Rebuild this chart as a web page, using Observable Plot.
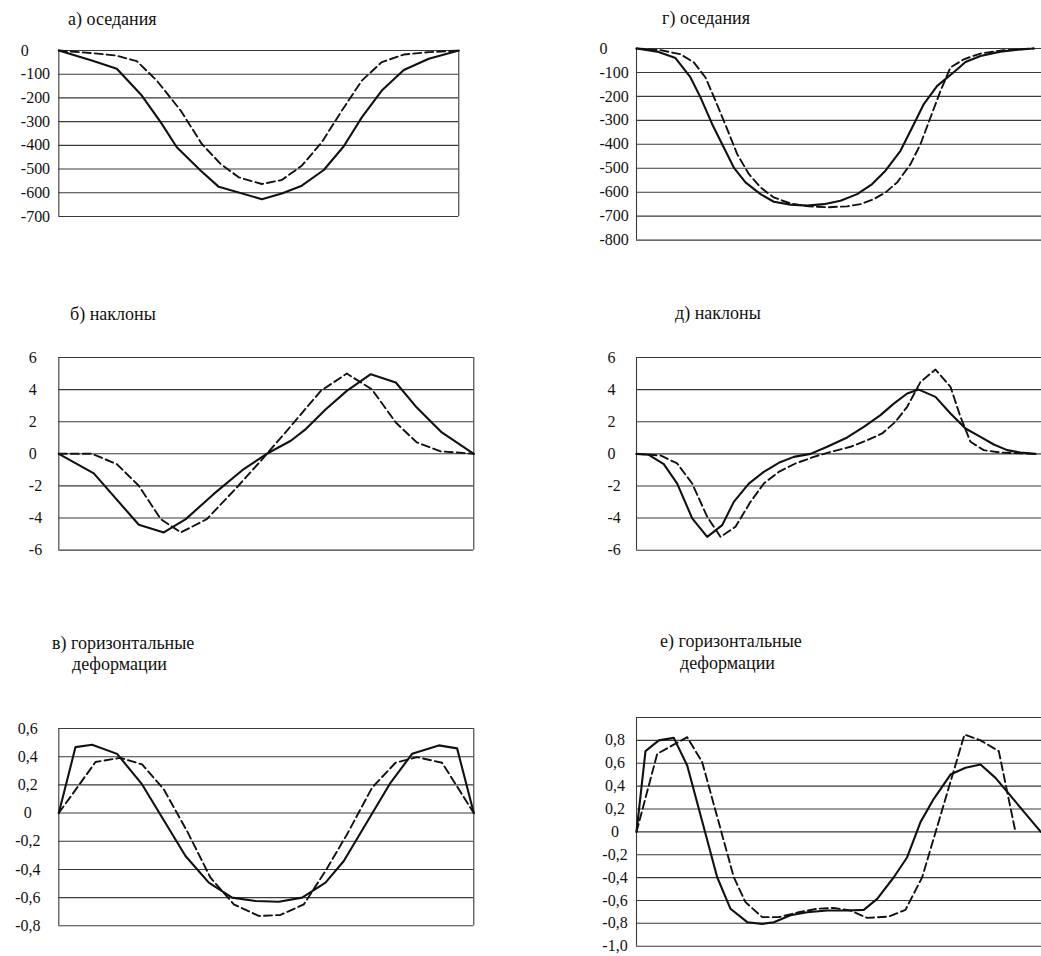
<!DOCTYPE html>
<html><head><meta charset="utf-8">
<script src="https://cdn.jsdelivr.net/npm/d3@7"></script>
<script src="https://cdn.jsdelivr.net/npm/@observablehq/plot@0.6"></script>
<style>
body{margin:0;background:#fff;}
#wrap{position:relative;width:1041px;height:956px;overflow:hidden;font-family:"Liberation Serif","DejaVu Serif","Noto Serif","Times New Roman",Times,serif;}
.t{position:absolute;font-family:"Liberation Serif","DejaVu Serif","Noto Serif","Times New Roman",Times,serif;font-size:18px;line-height:18px;white-space:nowrap;color:#111}
.p{position:absolute}
</style></head><body><div id="wrap"></div>
<script>
// ---- titles ----
const titleA = ["а) оседания"];
const titleB = ["б) наклоны"];
const titleC = ["в) горизонтальные", "деформации"];
const titleG = ["г) оседания"];
const titleD = ["д) наклоны"];
const titleE = ["е) горизонтальные", "деформации"];

// ---- tick values / labels ----
const ticksA = [0, -100, -200, -300, -400, -500, -600, -700];
const labelsA = ["0", "-100", "-200", "-300", "-400", "-500", "-600", "-700"];
const ticksG = [0, -100, -200, -300, -400, -500, -600, -700, -800];
const labelsG = ["0", "-100", "-200", "-300", "-400", "-500", "-600", "-700", "-800"];
const ticksB = [6, 4, 2, 0, -2, -4, -6];
const labelsB = ["6", "4", "2", "0", "-2", "-4", "-6"];
const ticksC = [0.6, 0.4, 0.2, 0, -0.2, -0.4, -0.6, -0.8];
const labelsC = ["0,6", "0,4", "0,2", "0", "-0,2", "-0,4", "-0,6", "-0,8"];
const gridE = [1.0, 0.8, 0.6, 0.4, 0.2, 0, -0.2, -0.4, -0.6, -0.8, -1.0];
const ticksE = [0.8, 0.6, 0.4, 0.2, 0, -0.2, -0.4, -0.6, -0.8, -1.0];
const labelsE = ["0,8", "0,6", "0,4", "0,2", "0", "-0,2", "-0,4", "-0,6", "-0,8", "-1,0"];

// ---- series (distance, value) ----
const aSolid = [[0,0],[33,-42],[58,-77],[83,-190],[102,-303],[118,-408],[142,-507],[160,-575],[203,-627],[223,-603],[243,-570],[265,-504],[285,-404],[303,-282],[323,-169],[345,-82],[370,-35],[400,0]];
const aDash = [[0,0],[33,-11],[57,-21],[78,-45],[98,-127],[122,-254],[143,-394],[162,-479],[180,-535],[203,-563],[223,-546],[243,-486],[263,-387],[283,-254],[303,-127],[323,-49],[345,-17],[370,-7],[400,0]];

const bSolid = [[0,0],[35,-1.22],[80,-4.42],[105,-4.9],[127,-4.07],[155,-2.5],[185,-0.95],[208,0],[232,0.81],[247,1.54],[267,2.78],[288,3.92],[312,4.96],[337,4.44],[358,2.88],[383,1.33],[415,0]];
const bDash = [[0,0],[33,0],[58,-0.64],[80,-1.99],[102,-4.07],[122,-4.9],[148,-4.07],[175,-2.3],[202,-0.44],[228,1.43],[262,3.92],[288,5.0],[313,4.02],[337,1.95],[358,0.71],[382,0.15],[415,0]];

const cSolid = [[0,0],[16.7,0.468],[33.3,0.485],[58.3,0.42],[83.3,0.203],[126.7,-0.305],[150,-0.494],[173.3,-0.6],[196.7,-0.624],[220,-0.629],[243.3,-0.6],[266.7,-0.494],[285,-0.34],[331.7,0.215],[353.3,0.42],[380,0.48],[398.3,0.459],[415,0]];
const cDash = [[0,0],[36.7,0.362],[61.7,0.392],[83.3,0.345],[105,0.168],[128.3,-0.128],[151.7,-0.459],[175,-0.648],[200,-0.73],[221.7,-0.723],[245,-0.648],[266.7,-0.411],[288.3,-0.15],[313.3,0.18],[336.7,0.357],[358.3,0.397],[383.3,0.357],[415,0]];

const gSolid = [[0,0],[20.7,-13],[39,-40],[54,-121],[64,-204],[75.7,-316],[87.3,-413],[97.3,-497],[109,-559],[124,-608],[137.3,-640],[154,-652],[170.7,-656],[187.3,-650],[204,-636],[220.7,-608],[235.7,-566],[249,-510],[264,-427],[277.3,-316],[287.3,-232],[300.7,-156],[319,-93],[329,-56],[344,-31],[364,-13],[384,-4],[397.3,0]];
const gDash = [[0,0],[24,-7],[44,-24],[57.3,-58],[69,-121],[79,-218],[90.7,-337],[100.7,-441],[112.3,-524],[124,-580],[137.3,-622],[154,-647],[172.3,-659],[190.7,-663],[210.7,-659],[224,-650],[237.3,-629],[249,-601],[260.7,-559],[274,-483],[284,-399],[294,-288],[304,-177],[314,-79],[327.3,-45],[344,-21],[367.3,-7],[397.3,0]];

const dSolid = [[0,0],[12.3,-0.06],[27.3,-0.64],[40.7,-1.85],[55.7,-4.02],[70.7,-5.17],[85.7,-4.44],[97.3,-2.99],[112.3,-1.85],[127.3,-1.12],[142.3,-0.56],[157.3,-0.19],[174,0],[190.7,0.44],[210.7,1.02],[227.3,1.68],[244,2.41],[257.3,3.13],[270.7,3.76],[282.3,4.0],[299,3.55],[314,2.51],[329,1.58],[344,1.06],[357.3,0.58],[370.7,0.23],[384,0.08],[399,0]];
const dDash = [[0,0],[24,-0.1],[40.7,-0.6],[55.7,-1.85],[70.7,-3.92],[84,-5.17],[99,-4.54],[114,-2.99],[127.3,-1.85],[142.3,-1.12],[159,-0.6],[177.3,-0.19],[194,0.12],[214,0.44],[230.7,0.85],[245.7,1.27],[259,2.0],[270.7,2.93],[284,4.48],[299,5.25],[314,4.17],[324,2.3],[334,0.75],[347.3,0.23],[364,0.08],[397.3,0]];

const eSolid = [[0,0],[9,0.706],[22.3,0.8],[37.3,0.822],[50.7,0.58],[80.7,-0.397],[94,-0.673],[110.7,-0.79],[125.7,-0.805],[137.3,-0.79],[154,-0.73],[170.7,-0.703],[190.7,-0.688],[210.7,-0.688],[227.3,-0.682],[240.7,-0.586],[257.3,-0.397],[270.7,-0.222],[284,0.085],[297.3,0.289],[314,0.501],[329,0.56],[344,0.589],[359,0.472],[404.3,0]];
const eDash = [[0,0],[20.7,0.682],[50.7,0.828],[65.7,0.609],[97.3,-0.397],[109,-0.615],[125.7,-0.746],[142.3,-0.746],[162.3,-0.703],[180.7,-0.673],[197.3,-0.665],[214,-0.688],[230.7,-0.752],[252.3,-0.741],[269,-0.682],[285.7,-0.397],[328,0.851],[344,0.8],[362.3,0.706],[379,0]];

// ---- layout ----
const FONT = '"Liberation Serif", "DejaVu Serif", "Noto Serif", "Times New Roman", Times, serif';
const wrap = document.getElementById("wrap");
function title(lines, items) {
  lines.forEach((txt, i) => {
    const d = document.createElement("div");
    d.className = "t";
    d.textContent = txt;
    d.style.left = items[i][0] + "px";
    d.style.top = (items[i][1] - 0.837 * 18) + "px";
    wrap.appendChild(d);
  });
}

function panel(o) {
  const L0 = o.origin, mt = 12, mb = 12;
  const width = o.r - L0 + o.mr;
  const height = o.b - o.t + mt + mb;
  const fmt = v => { const i = o.ticks.findIndex(t => Math.abs(t - v) < 1e-9); return i >= 0 ? o.labels[i] : ""; };
  const marks = [
    Plot.ruleY(o.grid, {stroke: "#3a3a3a", strokeWidth: 1.1}),
    Plot.ruleX([o.xdom[0]], {stroke: "#3a3a3a", strokeWidth: 1.1})
  ];
  if (o.rightBorder) marks.push(Plot.ruleX([o.xdom[1]], {stroke: "#3a3a3a", strokeWidth: 1.1}));
  marks.push(
    Plot.line(o.solid, {x: d => d[0], y: d => d[1], stroke: "#111", strokeWidth: 2.1}),
    Plot.line(o.dash, {x: d => d[0], y: d => d[1], stroke: "#111", strokeWidth: 1.9, strokeDasharray: "8,4"}),
    Plot.axisY({ticks: o.ticks, tickFormat: fmt, tickSize: 0, tickPadding: o.pad, textAnchor: o.anchor, fontSize: 16, fontFamily: FONT, fill: "#111", label: null})
  );
  const svg = Plot.plot({
    width, height,
    marginLeft: o.l - L0, marginRight: o.mr, marginTop: mt, marginBottom: mb,
    x: {domain: o.xdom, axis: null},
    y: {domain: o.ydom},
    style: {fontFamily: FONT, fontSize: "16px", color: "#111", background: "transparent", overflow: "visible"},
    marks
  });
  svg.querySelectorAll("text").forEach(t => t.setAttribute("font-family", FONT));
  const holder = document.createElement("div");
  holder.className = "p";
  holder.style.left = L0 + "px";
  holder.style.top = (o.t - mt) + "px";
  holder.appendChild(svg);
  wrap.appendChild(holder);
}

// left column
title(titleA, [[68, 25]]);
panel({origin: 0, l: 58.3, r: 458.3, t: 50, b: 216, mr: 10, xdom: [0, 400], ydom: [-700, 0], grid: ticksA, ticks: ticksA, labels: labelsA, pad: 38, anchor: "start", solid: aSolid, dash: aDash, rightBorder: true});
title(titleB, [[70, 320]]);
panel({origin: 0, l: 58.3, r: 473.3, t: 356.7, b: 549.3, mr: 10, xdom: [0, 415], ydom: [-6, 6], grid: ticksB, ticks: ticksB, labels: labelsB, pad: 30, anchor: "start", solid: bSolid, dash: bDash, rightBorder: true});
title(titleC, [[52, 649], [72, 670]]);
panel({origin: 0, l: 58.3, r: 473.3, t: 727.7, b: 925, mr: 10, xdom: [0, 415], ydom: [-0.8, 0.6], grid: ticksC, ticks: ticksC, labels: labelsC, pad: 31, anchor: "middle", solid: cSolid, dash: cDash, rightBorder: true});

// right column
title(titleG, [[662, 24.3]]);
panel({origin: 560, l: 636, r: 1041, t: 47.7, b: 239.3, mr: 0, xdom: [0, 405], ydom: [-800, 0], grid: ticksG, ticks: ticksG, labels: labelsG, pad: 37, anchor: "start", solid: gSolid, dash: gDash, rightBorder: false});
title(titleD, [[675, 319.3]]);
panel({origin: 560, l: 636, r: 1041, t: 357.3, b: 550, mr: 0, xdom: [0, 405], ydom: [-6, 6], grid: ticksB, ticks: ticksB, labels: labelsB, pad: 29, anchor: "start", solid: dSolid, dash: dDash, rightBorder: false});
title(titleE, [[660, 647.3], [680, 669]]);
panel({origin: 560, l: 636, r: 1041, t: 717.3, b: 946, mr: 0, xdom: [0, 405], ydom: [-1, 1], grid: gridE, ticks: ticksE, labels: labelsE, pad: 21.5, anchor: "middle", solid: eSolid, dash: eDash, rightBorder: false});
</script>
</body></html>
